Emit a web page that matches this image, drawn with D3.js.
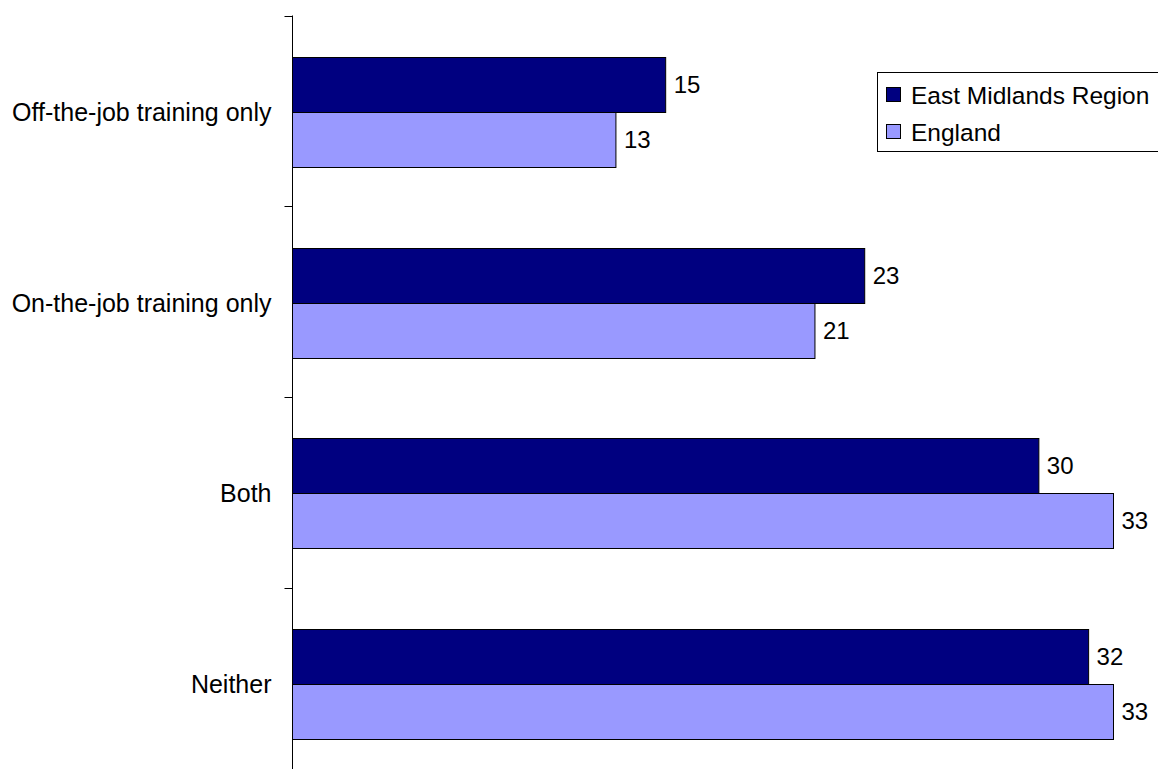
<!DOCTYPE html>
<html><head><meta charset="utf-8">
<script src="https://cdn.jsdelivr.net/npm/d3@7"></script>
<style>body{margin:0;background:#fff;overflow:hidden}svg{display:block}text{font-family:"Liberation Sans",Arial,sans-serif}</style>
</head><body>
<script>
const categories = ["Off-the-job training only", "On-the-job training only", "Both", "Neither"];
const seriesNames = ["East Midlands Region", "England"];
const eastMidlands = [15, 23, 30, 32];
const england = [13, 21, 33, 33];
const colors = ["#000080", "#9999FF"];

const W = 1158, H = 769, FS = 24;
const svg = d3.select("body").append("svg").attr("width", W).attr("height", H);
const x0 = 292.5, plotTop = 15.5, plotBottom = 778.5;
const x = d3.scaleLinear().domain([0, 33]).range([x0, 1113.5]);
const y = d3.scaleBand().domain(categories).range([plotTop, plotBottom]).paddingInner(0).paddingOuter(0);
const inner = d3.scaleBand().domain(seriesNames).range([0, y.bandwidth()]).paddingOuter(0.733);

const data = categories.map((c, i) => ({cat: c, vals: [eastMidlands[i], england[i]]}));

const g = svg.append("g");
data.forEach(d => {
  d.vals.forEach((v, j) => {
    const yy = Math.round(y(d.cat) + inner(seriesNames[j]) + 1) + 0.5;
    g.append("rect")
      .attr("x", x(0)).attr("y", yy)
      .attr("width", x(v) - x(0)).attr("height", Math.round(inner.bandwidth()))
      .attr("fill", colors[j]).attr("stroke", "#000").attr("stroke-width", 1);
    g.append("text")
      .attr("x", x(v) + 8).attr("y", yy + inner.bandwidth() / 2)
      .attr("dy", "0.35em").attr("font-size", FS).attr("fill", "#000")
      .text(v);
  });
});

// axis
const axis = d3.axisLeft(y).tickSize(0).tickPadding(21);
const ax = svg.append("g").attr("transform", `translate(${x0},2)`).call(axis);
ax.select(".domain").remove();
ax.selectAll("text").attr("font-size", 25).attr("fill", "#000").style("font-family", '"Liberation Sans",Arial,sans-serif');
svg.append("line").attr("x1", x0).attr("x2", x0).attr("y1", plotTop).attr("y2", plotBottom).attr("stroke", "#000");
// boundary ticks
const bounds = categories.map(c => y(c)).concat([plotBottom]);
svg.append("g").selectAll("line").data(bounds).join("line")
  .attr("x1", x0 - 8).attr("x2", x0).attr("y1", d => Math.round(d) + 0.5).attr("y2", d => Math.round(d) + 0.5)
  .attr("stroke", "#000").attr("stroke-width", 1);

// legend
const lg = svg.append("g");
lg.append("rect").attr("x", 877.5).attr("y", 72.5).attr("width", 300).attr("height", 79)
  .attr("fill", "#fff").attr("stroke", "#000").attr("stroke-width", 1);
seriesNames.forEach((s, j) => {
  const cy = 95 + j * 37;
  lg.append("rect").attr("x", 886.5).attr("y", cy - 7.5).attr("width", 14).attr("height", 14)
    .attr("fill", colors[j]).attr("stroke", "#000").attr("stroke-width", 1);
  lg.append("text").attr("x", 911).attr("y", cy).attr("dy", "0.35em")
    .attr("font-size", 24.5).attr("fill", "#000").text(s);
});
</script>
</body></html>
